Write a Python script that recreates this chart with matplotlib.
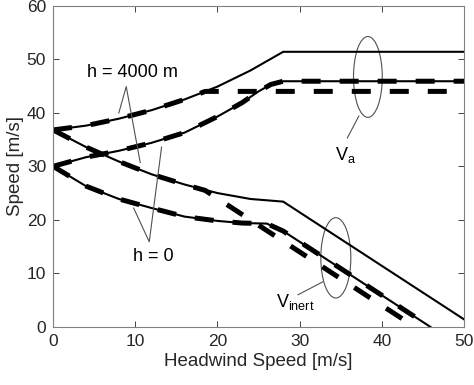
import matplotlib
matplotlib.use("Agg")
import matplotlib.pyplot as plt
from matplotlib.patches import Ellipse

plt.rcParams['font.family'] = ['Liberation Sans', 'DejaVu Sans']
plt.rcParams['mathtext.fontset'] = 'custom'
plt.rcParams['mathtext.rm'] = 'Liberation Sans'

# airspeed, h = 4000 m (solid) and h = 0 (solid)
va_hi_x = [0, 4, 8, 12, 16, 20, 24, 28, 50]
va_hi_y = [36.8, 37.6, 38.9, 40.5, 42.5, 44.9, 47.9, 51.4, 51.4]
va_lo_x = [0, 4, 8, 12, 16, 20, 23, 25, 26.5, 28, 50]
va_lo_y = [30.0, 31.7, 32.9, 34.4, 36.3, 39.3, 41.9, 44.0, 45.3, 45.9, 45.9]

# inertial speed, h = 4000 m and h = 0
vi_hi_x = [0, 4, 8, 12, 16, 20, 24, 28, 50]
vi_hi_y = [36.8, 33.6, 30.9, 28.5, 26.6, 25.0, 23.9, 23.4, 1.4]
vi_lo_x = [0, 4, 8, 12, 16, 20, 23, 26, 28, 45.9]
vi_lo_y = [30.0, 26.3, 23.9, 22.2, 20.6, 19.8, 19.4, 19.3, 17.9, 0.0]

# dashed variants
vad_hi_x = [0, 4, 8, 12, 16, 18.5, 50]
vad_hi_y = [36.8, 37.6, 38.9, 40.5, 42.5, 44.0, 44.0]
vid_hi_x = [0, 4, 8, 12, 16, 18.5, 44]
vid_hi_y = [36.8, 33.6, 30.9, 28.5, 26.6, 25.5, 0.0]

fig = plt.figure(figsize=(4.74, 3.85), dpi=100)
ax = fig.add_axes([0.112, 0.151, 0.867, 0.834])

dash = dict(color='black', lw=3.6, dashes=(3.8, 3.8), solid_capstyle='butt', dash_capstyle='butt')
ax.plot(vad_hi_x, vad_hi_y, **dash)
ax.plot(va_lo_x, va_lo_y, **dash)
ax.plot(vid_hi_x, vid_hi_y, **dash)
ax.plot(vi_lo_x, vi_lo_y, **dash)

for xs, ys in [(va_hi_x, va_hi_y), (va_lo_x, va_lo_y), (vi_hi_x, vi_hi_y), (vi_lo_x, vi_lo_y)]:
    ax.plot(xs, ys, color='black', lw=1.5)

# annotations
grey = '#505050'
ax.text(9.7, 47.6, 'h = 4000 m', fontsize=13, ha='center', va='center')
ax.plot([8.0, 8.9, 10.6], [40.0, 44.9, 30.7], color=grey, lw=0.8)
ax.text(12.2, 13.1, 'h = 0', fontsize=13, ha='center', va='center')
ax.plot([9.8, 11.7, 13.2], [22.2, 15.9, 33.6], color=grey, lw=0.8)

ax.add_patch(Ellipse((38.3, 46.7), 3.5, 15.1, fill=False, ec=grey, lw=0.8))
ax.plot([37.2, 35.8], [39.4, 35.3], color=grey, lw=0.8)
ax.text(35.6, 32.2, r'V$_\mathrm{a}$', fontsize=13, ha='center', va='center')

ax.add_patch(Ellipse((34.4, 12.9), 3.65, 15.0, fill=False, ec=grey, lw=0.8))
ax.plot([32.8, 29.8], [8.4, 6.0], color=grey, lw=0.8)
ax.text(29.5, 4.6, r'V$_\mathrm{inert}$', fontsize=13, ha='center', va='center')

ax.set_xlim(0, 50)
ax.set_ylim(0, 60)
ax.set_xticks([0, 10, 20, 30, 40, 50])
ax.set_yticks([0, 10, 20, 30, 40, 50, 60])
ax.tick_params(direction='in', top=True, right=True, labelsize=12.5, colors='#262626', length=4, width=0.6, pad=5)
for s in ax.spines.values():
    s.set_color('#808080')
    s.set_linewidth(0.8)
ax.set_xlabel('Headwind Speed [m/s]', fontsize=13.5, color='#262626', labelpad=3)
ax.set_ylabel('Speed [m/s]', fontsize=13.5, color='#262626', labelpad=2)

fig.savefig('out.png', dpi=100)
